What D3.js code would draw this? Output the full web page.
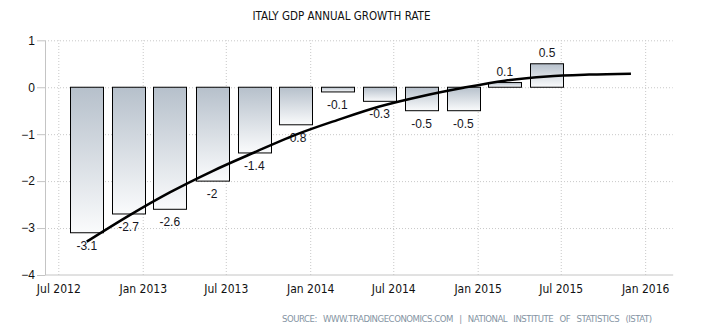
<!DOCTYPE html>
<html>
<head>
<meta charset="utf-8">
<script src="https://cdn.jsdelivr.net/npm/d3@7"></script>
<style>
  body { margin: 0; background: #fff; }
  svg { display: block; }
  .title { font-family: "DejaVu Sans Condensed", "DejaVu Sans", sans-serif; font-size: 11.5px; fill: #111; }
  .axis path, .axis line { stroke: #c4c4c4; }
  .axis text { fill: #111; }
  .x.axis text { font-family: "DejaVu Sans Condensed", "DejaVu Sans", sans-serif; font-size: 12px; }
  .y.axis text { font-family: "Liberation Sans", Arial, sans-serif; font-size: 12px; }
  .grid line { stroke: #c8c8c8; stroke-dasharray: 1,2; }
  .grid path { display: none; }
  .bar { stroke: #000; stroke-width: 1; }
  .bar-label { font-family: "Liberation Sans", Arial, sans-serif; font-size: 12px; fill: #161622; text-anchor: middle; }
  .trend { fill: none; stroke: #000; stroke-width: 2.5; }
  .source { font-family: "DejaVu Sans Condensed", "DejaVu Sans", sans-serif; font-size: 9.5px; fill: #8594a3;
            text-anchor: end; word-spacing: 4px; }
</style>
</head>
<body>
<svg width="701" height="332"></svg>
<script>
// quarterly GDP growth, year on year (%)
var quarters = ['2012-09-01', '2012-12-01', '2013-03-01', '2013-06-01', '2013-09-01', '2013-12-01',
                '2014-03-01', '2014-06-01', '2014-09-01', '2014-12-01', '2015-03-01', '2015-06-01'];
var growth = [-3.1, -2.7, -2.6, -2, -1.4, -0.8, -0.1, -0.3, -0.5, -0.5, 0.1, 0.5];

// smoothed trend, runs two quarters past the last reading
var trendDates = ['2012-09-01', '2012-12-01', '2013-03-01', '2013-06-01', '2013-09-01', '2013-12-01', '2014-03-01',
                  '2014-06-01', '2014-09-01', '2014-12-01', '2015-03-01', '2015-06-01', '2015-09-01', '2015-12-01'];
var trendValues = [-3.29, -2.74, -2.24, -1.79, -1.39, -1.01, -0.70, -0.41, -0.19, -0.01, 0.14, 0.23, 0.27, 0.29];

var xTicks = ['2012-07-01', '2013-01-01', '2013-07-01', '2014-01-01', '2014-07-01', '2015-01-01', '2015-07-01', '2016-01-01'];
var yTicks = [-4, -3, -2, -1, 0, 1];

var svg = d3.select('svg');
var parseDate = d3.timeParse('%Y-%m-%d');

var plot = {l: 45, r: 672.7, t: 40.3, b: 275};

var xScale = d3.scaleTime()
    .domain([parseDate('2012-06-02'), parseDate('2016-03-01')])
    .range([plot.l, plot.r]);

var yScale = d3.scaleLinear()
    .domain([-4, 1])
    .range([plot.b, plot.t]);

var bars = quarters.map(function(q, i) {
    return {date: parseDate(q), value: growth[i]};
});
var trend = trendDates.map(function(q, i) {
    return {date: parseDate(q), value: trendValues[i]};
});

// bars take about 79% of the quarter spacing
var barWidth = (xScale(bars[1].date) - xScale(bars[0].date)) * 0.79;

svg.append('text')
    .attr('class', 'title')
    .attr('x', 341.5)
    .attr('y', 20)
    .attr('text-anchor', 'middle')
    .text('ITALY GDP ANNUAL GROWTH RATE');

// dotted grid
svg.append('g')
    .attr('class', 'grid')
    .attr('transform', 'translate(0,' + plot.b + ')')
    .call(d3.axisBottom(xScale)
        .tickValues(xTicks.map(parseDate))
        .tickSize(-(plot.b - plot.t))
        .tickFormat(''));

svg.append('g')
    .attr('class', 'grid')
    .attr('transform', 'translate(' + plot.l + ',0)')
    .call(d3.axisLeft(yScale)
        .tickValues(yTicks.filter(function(d) { return d > -4; }))
        .tickSize(-(plot.r - plot.l))
        .tickFormat(''));

// vertical gradient for the bars, dark at the top
var grad = svg.append('defs').append('linearGradient')
    .attr('id', 'barFill')
    .attr('x1', 0).attr('y1', 0)
    .attr('x2', 0).attr('y2', 1);
grad.append('stop').attr('offset', '0%').attr('stop-color', '#b6c0cb');
grad.append('stop').attr('offset', '100%').attr('stop-color', '#fafbfc');

svg.selectAll('.bar')
    .data(bars)
    .enter()
    .append('rect')
    .attr('class', 'bar')
    .attr('x', function(d) { return Math.round(xScale(d.date) - barWidth / 2) + 0.5; })
    .attr('y', function(d) { return yScale(Math.max(0, d.value)); })
    .attr('width', Math.round(barWidth))
    .attr('height', function(d) { return Math.abs(yScale(d.value) - yScale(0)); })
    .attr('fill', 'url(#barFill)');

svg.selectAll('.bar-label')
    .data(bars)
    .enter()
    .append('text')
    .attr('class', 'bar-label')
    .attr('x', function(d) { return xScale(d.date); })
    .attr('y', function(d) {
        return d.value < 0 ? yScale(d.value) + 17 : yScale(d.value) - 7;
    })
    .text(function(d) { return d.value; });

var line = d3.line()
    .x(function(d) { return xScale(d.date); })
    .y(function(d) { return yScale(d.value); })
    .curve(d3.curveMonotoneX);

svg.append('path')
    .datum(trend)
    .attr('class', 'trend')
    .attr('d', line);

// axes
svg.append('g')
    .attr('class', 'x axis')
    .attr('transform', 'translate(0,' + (plot.b - 0.5) + ')')
    .call(d3.axisBottom(xScale)
        .tickValues(xTicks.map(parseDate))
        .tickSize(0)
        .tickPadding(10)
        .tickFormat(d3.timeFormat('%b %Y')));

svg.append('g')
    .attr('class', 'y axis')
    .attr('transform', 'translate(' + plot.l + ',0)')
    .call(d3.axisLeft(yScale)
        .tickValues(yTicks)
        .tickSizeInner(8)
        .tickSizeOuter(0)
        .tickPadding(2)
        .tickFormat(d3.format('d')));

svg.selectAll('.axis .domain').attr('stroke', '#c4c4c4');

svg.append('text')
    .attr('class', 'source')
    .attr('x', 652)
    .attr('y', 322)
    .attr('textLength', 370)
    .attr('lengthAdjust', 'spacing')
    .text('SOURCE: WWW.TRADINGECONOMICS.COM | NATIONAL INSTITUTE OF STATISTICS (ISTAT)');
</script>
</body>
</html>
